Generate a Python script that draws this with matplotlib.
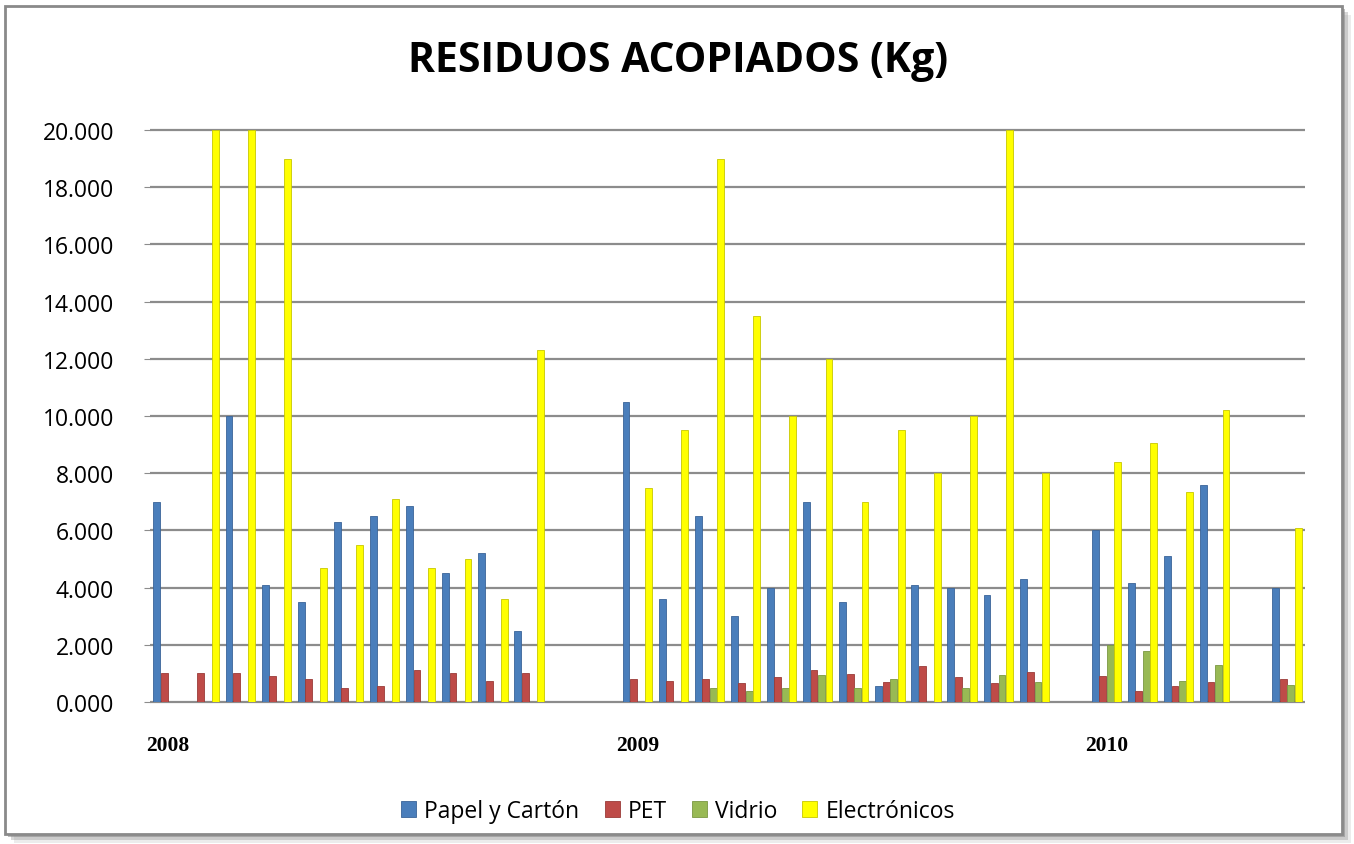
import numpy as np
import matplotlib.pyplot as plt
from matplotlib.patches import Rectangle

nan = np.nan

# 32 monthly slots, year label on the first slot of each year
years = ['2008', '2009', '2010']
year_slots = [0, 13, 26]
n_slots = 32

papel = [7000, nan, 10000, 4100, 3500, 6300, 6500, 6850, 4500, 5200, 2500, nan, nan,
         10500, 3600, 6500, 3000, 4000, 7000, 3500, 550, 4100, 4000, 3750, 4300, nan,
         6000, 4150, 5100, 7600, nan, 4000]
pet = [1000, 1000, 1000, 900, 800, 500, 560, 1120, 1000, 750, 1000, nan, nan,
       800, 750, 800, 650, 870, 1130, 970, 700, 1250, 870, 650, 1050, nan,
       900, 400, 550, 700, nan, 800]
vidrio = [nan, nan, nan, nan, nan, nan, nan, nan, nan, nan, nan, nan, nan,
          nan, nan, 500, 400, 500, 950, 500, 800, nan, 500, 930, 700, nan,
          2000, 1800, 750, 1300, nan, 600]
electronicos = [nan, 20000, 20000, 19000, 4700, 5500, 7100, 4700, 5000, 3600, 12300, nan, nan,
                7500, 9500, 19000, 13500, 10000, 12000, 7000, 9500, 8000, 10000, 20000, 8000, nan,
                8400, 9050, 7350, 10200, nan, 6100]

series = [('Papel y Cartón', papel, '#4A7EBB', '#3A6499'),
          ('PET', pet, '#BE4B48', '#9A3B38'),
          ('Vidrio', vidrio, '#98B954', '#7A9843'),
          ('Electrónicos', electronicos, '#FFFF00', '#C8C800')]

fig = plt.figure(figsize=(13.54, 8.45), dpi=100)

# chart area frame with a soft shadow
for i, a in enumerate([0.15, 0.3, 0.5]):
    off = (3 - i) * 3
    fig.patches.append(Rectangle(((5 + off) / 1354, (10 - off) / 845), 1337 / 1354, 828 / 845,
                                 transform=fig.transFigure, facecolor='#808080', alpha=a,
                                 edgecolor='none', zorder=-3))
fig.patches.append(Rectangle((5 / 1354, 10 / 845), 1337 / 1354, 828 / 845,
                             transform=fig.transFigure, facecolor='white',
                             edgecolor='#8a8a8a', linewidth=2, zorder=-2))

ax = fig.add_axes([150 / 1354, 142 / 845, 1155 / 1354, 572 / 845])
ax.set_facecolor('none')
ax.set_zorder(1)

x = np.arange(n_slots)
step = 0.207
width = 0.19
for k, (name, vals, col, edge) in enumerate(series):
    ax.bar(x + (k - 1.5) * step, vals, width, color=col, edgecolor=edge,
           linewidth=0.6, label=name, zorder=3)

ax.set_xlim(-0.5, n_slots - 0.5)
ax.set_ylim(0, 20000)
yt = np.arange(0, 20001, 2000)
ax.hlines(yt, -0.5, n_slots - 0.5, colors='#8c8c8c', linewidth=1.6, zorder=1, clip_on=False)
ax.set_yticks(yt)
ax.set_yticklabels([f'{v / 1000:.3f}' for v in yt], fontsize=16.5, family='Open Sans')
ax.set_xticks(year_slots)
ax.set_xticklabels(years, fontsize=15.5, family='Liberation Serif', fontweight='bold')
ax.tick_params(axis='y', length=4, color='#8c8c8c', pad=22)
ax.tick_params(axis='x', length=0, pad=24)
for s in ax.spines.values():
    s.set_visible(False)

fig.text(678 / 1354, (845 - 62) / 845, 'RESIDUOS ACOPIADOS (Kg)', ha='center', va='center',
         fontsize=29.5, fontweight='bold', family='Open Sans')

ax.legend(loc='center', bbox_to_anchor=(678 / 1354, (845 - 812) / 845),
          bbox_transform=fig.transFigure, ncol=4, frameon=False,
          prop={'family': 'Open Sans', 'size': 16.5},
          handlelength=0.65, handleheight=0.75, handletextpad=0.35, columnspacing=1.1)

fig.savefig('out.png', dpi=100)
